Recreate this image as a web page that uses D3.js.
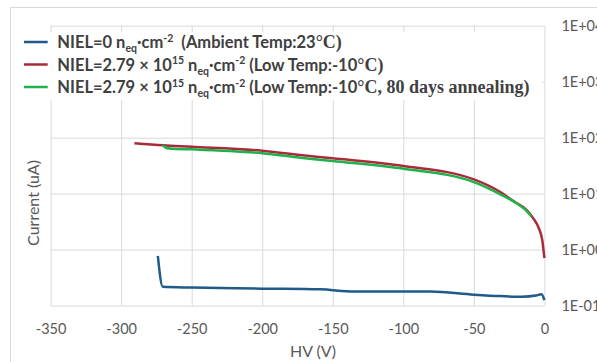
<!DOCTYPE html>
<html>
<head>
<meta charset="utf-8">
<script src="https://cdn.jsdelivr.net/npm/d3@7"></script>
<style>
  body { margin: 0; background: #fff; }
  svg { display: block; font-family: Lato, "Noto Sans", sans-serif; }
</style>
</head>
<body>
<figure id="chart" style="margin:0"></figure>
<script>
// Series (HV in V, current in uA)
const blueV = [-274, -270.5, -250, -200, -159, -135, -100, -81, -50, -31, -16, -6, -2, 0];
const blueI = [0.776, 0.217, 0.210, 0.201, 0.195, 0.178, 0.178, 0.178, 0.157, 0.148, 0.144, 0.151, 0.160, 0.125];

const redV = [-290.6, -270, -250, -200, -173, -150, -100, -50, -31.5, -22, -12.5, -8, -4, -1.5, 0];
const redI = [79.2, 72.9, 68.8, 58.4, 48.9, 42.7, 31.1, 18.0, 10.8, 7.37, 5.09, 3.66, 2.43, 1.48, 0.706];

const greenV = [-270.5, -268, -263, -250, -200, -173, -150, -100, -50, -31.5, -20, -12.5, -9];
const greenI = [73.8, 65.3, 63.4, 61.8, 52.5, 43.8, 38.2, 27.8, 16.1, 9.84, 6.79, 4.89, 3.86];

const xTicks = [-350, -300, -250, -200, -150, -100, -50, 0];
const yTicks = [0.1, 1, 10, 100, 1000, 10000];
const yTickLabels = ["1E-01", "1E+00", "1E+01", "1E+02", "1E+03", "1E+04"];

const colors = ["#1f5a8a", "#a92b3a", "#1fb24a"];

const width = 597, height = 362;
const plotLeft = 50.6, plotRight = 544.4, plotTop = 25.7, plotBottom = 305.6;

const svg = d3.select("#chart").append("svg")
  .attr("width", width)
  .attr("height", height);

// outer chart frame
svg.append("path")
  .attr("d", "M10.5," + height + "V7.5H" + width)
  .attr("fill", "none")
  .attr("stroke", "#d9d9d9");

const x = d3.scaleLinear().domain([-350, 0]).range([plotLeft, plotRight]);
const y = d3.scaleLog().domain([0.1, 10000]).range([plotBottom, plotTop]);

// x axis + vertical grid
const gx = svg.append("g")
  .attr("transform", "translate(0," + plotBottom + ")")
  .call(d3.axisBottom(x).tickValues(xTicks).tickSize(-(plotBottom - plotTop)).tickPadding(18).tickFormat(d => String(d)));
gx.attr("font-family", null).attr("font-size", null);
gx.select(".domain").remove();
gx.selectAll("line").attr("stroke", "#d9d9d9");
gx.selectAll("text").attr("fill", "#595959").style("font-size", "14.5px");

// y axis on the right + horizontal grid
const gy = svg.append("g")
  .attr("transform", "translate(" + plotRight + ",0)")
  .call(d3.axisRight(y).tickValues(yTicks).tickSize(-(plotRight - plotLeft)).tickPadding(17)
    .tickFormat((d, i) => yTickLabels[i]));
gy.attr("font-family", null).attr("font-size", null);
gy.select(".domain").remove();
gy.selectAll("line").attr("stroke", "#d9d9d9");
gy.selectAll("text").attr("fill", "#595959").style("font-size", "14.5px");

// axis titles
svg.append("text")
  .attr("x", 313).attr("y", 357)
  .attr("text-anchor", "middle")
  .attr("fill", "#595959")
  .style("font-size", "16px")
  .text("HV (V)");

svg.append("text")
  .attr("transform", "translate(39,203)rotate(-90)")
  .attr("text-anchor", "middle")
  .attr("fill", "#595959")
  .style("font-size", "16px")
  .text("Current (uA)");

// legend box (white, hides grid)
svg.append("rect")
  .attr("x", 17).attr("y", 32)
  .attr("width", 524.5).attr("height", 68)
  .attr("fill", "#fff");

// lines
const line = d3.line()
  .x(d => x(d[0]))
  .y(d => y(d[1]))
  .curve(d3.curveMonotoneX);

const series = [
  d3.zip(blueV, blueI),
  d3.zip(redV, redI),
  d3.zip(greenV, greenI)
];

svg.selectAll(".series")
  .data(series)
  .enter()
  .append("path")
  .attr("class", "series")
  .attr("d", d => line(d))
  .attr("fill", "none")
  .attr("stroke", (d, i) => colors[i])
  .attr("stroke-width", 2.5)
  .attr("stroke-linejoin", "round");

// legend entries: pieces of text with their style
const legendParts = [
  [["NIEL=0 n", "s"], ["eq", "sub"], ["·cm", "s"], ["-2", "sup"], ["  (Ambient Temp:23", "s"], ["°C)", "serif"]],
  [["NIEL=2.79 × 10", "s"], ["15", "sup"], [" n", "s"], ["eq", "sub"], ["·cm", "s"], ["-2", "sup"], [" (Low Temp:-10", "s"], ["°C)", "serif"]],
  [["NIEL=2.79 × 10", "s"], ["15", "sup"], [" n", "s"], ["eq", "sub"], ["·cm", "s"], ["-2", "sup"], [" (Low Temp:-10", "s"], ["°C, 80 days annealing)", "serif"]]
];
const legendY = [42, 64.5, 87];

legendParts.forEach((parts, i) => {
  svg.append("line")
    .attr("x1", 24).attr("x2", 47.7)
    .attr("y1", legendY[i]).attr("y2", legendY[i])
    .attr("stroke", colors[i])
    .attr("stroke-width", 2.5);

  const t = svg.append("text")
    .attr("x", 57.3)
    .attr("y", legendY[i] + 6)
    .attr("fill", "#404040")
    .style("font-size", "16.5px")
    .style("font-weight", "bold")
    .style("white-space", "pre");

  let shift = 0;
  parts.forEach(p => {
    const ts = t.append("tspan").text(p[0]);
    const dy = p[1] === "sub" ? 4 : p[1] === "sup" ? -6.5 : 0;
    ts.attr("dy", dy - shift);
    shift = dy;
    if (p[1] === "sub" || p[1] === "sup") {
      ts.style("font-size", "10.5px");
    } else if (p[1] === "serif") {
      ts.style("font-family", "'Liberation Serif', serif").style("font-size", "18px");
    }
  });
});
</script>
</body>
</html>
